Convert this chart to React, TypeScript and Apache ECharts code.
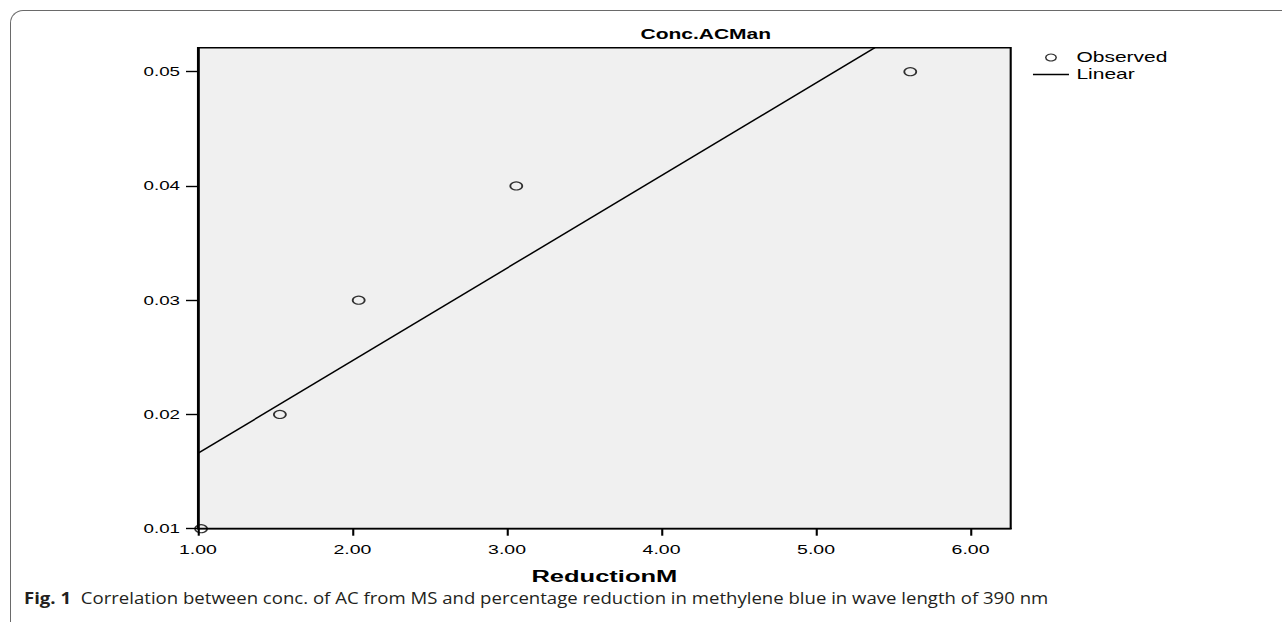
import React, { useEffect, useRef } from "react";
import * as echarts from "echarts";

// ---- data ----
const observedX = [1.02, 1.53, 2.04, 3.06, 5.61];
const observedY = [0.01, 0.02, 0.03, 0.04, 0.05];
const linearX = [1.0, 5.38];
const linearY = [0.0166, 0.0521];
const xTicks = [1, 2, 3, 4, 5, 6];
const yTicks = [0.01, 0.02, 0.03, 0.04, 0.05];
const chartTitle = "Conc.ACMan";
const xName = "ReductionM";
const legendNames = ["Observed", "Linear"];
const captionBold = "Fig. 1";
const captionText =
  "Correlation between conc. of AC from MS and percentage reduction in methylene blue in wave length of 390 nm";

// horizontal stretch of the original figure
const S = 1.5;
const W = 1282 / S;
const FONT = '"Liberation Sans", Arial, sans-serif';
const CAP_FONT = '"Open Sans", "Noto Sans", sans-serif';

export default function App() {
  const ref = useRef<HTMLDivElement>(null);

  useEffect(() => {
    if (!ref.current) return;
    const chart = echarts.init(ref.current, undefined, { renderer: "svg" });
    const gridLeft = 198 / S;
    const gridRight = 1010.7 / S;
    const gridTop = 47.7;
    const gridBottom = 528.7;

    chart.setOption({
      animation: false,
      textStyle: { fontFamily: FONT, color: "#000" },
      title: {
        text: chartTitle,
        left: 633 / S,
        top: 22,
        padding: [5, 5, 5, 5],
        textStyle: { fontSize: 14, fontWeight: "bold", color: "#000", fontFamily: FONT },
      },
      legend: {
        orient: "vertical",
        left: 1032 / S,
        top: 50,
        padding: 0,
        itemWidth: 24,
        itemHeight: 7,
        itemGap: 2,
        textStyle: { fontSize: 14, color: "#000", fontFamily: FONT, lineHeight: 15 },
        data: [
          {
            name: legendNames[0],
            icon: "circle",
            itemStyle: { color: "rgba(0,0,0,0)", borderColor: "#000", borderWidth: 1 },
          },
          {
            name: legendNames[1],
            itemStyle: { color: "rgba(0,0,0,0)", borderColor: "rgba(0,0,0,0)", borderWidth: 0, opacity: 0 },
            lineStyle: { color: "#000", width: 1.3 },
          },
        ],
      },
      grid: {
        left: gridLeft,
        top: gridTop,
        width: gridRight - gridLeft,
        height: gridBottom - gridTop,
        show: true,
        backgroundColor: "#f0f0f0",
        borderColor: "#000",
        borderWidth: 1.4,
      },
      xAxis: {
        type: "value",
        min: 1,
        max: 6.26,
        name: xName,
        nameLocation: "middle",
        nameGap: 39,
        nameTextStyle: { fontSize: 17, fontWeight: "bold", color: "#000", fontFamily: FONT },
        axisLine: { show: true, onZero: false, lineStyle: { color: "#000", width: 1.4 } },
        axisTick: { show: true, length: 7, customValues: xTicks, lineStyle: { color: "#000", width: 1.4 } },
        axisLabel: {
          customValues: xTicks,
          formatter: (v: number) => v.toFixed(2),
          fontSize: 13,
          color: "#000",
          margin: 14,
          fontFamily: FONT,
        },
        splitLine: { show: false },
      },
      yAxis: {
        type: "value",
        min: 0.01,
        max: 0.0521,
        axisLine: { show: true, onZero: false, lineStyle: { color: "#000", width: 1.4 } },
        axisTick: { show: true, length: 8, customValues: yTicks, lineStyle: { color: "#000", width: 1.4 } },
        axisLabel: {
          customValues: yTicks,
          formatter: (v: number) => v.toFixed(2),
          fontSize: 12.5,
          color: "#000",
          margin: 12,
          fontFamily: FONT,
        },
        splitLine: { show: false },
      },
      series: [
        {
          name: legendNames[0],
          type: "scatter",
          symbol: "circle",
          symbolSize: 8,
          itemStyle: { color: "rgba(0,0,0,0)", borderColor: "#000", borderWidth: 1.2 },
          data: observedX.map((x, i) => [x, observedY[i]]),
          z: 3,
        },
        {
          name: legendNames[1],
          type: "line",
          symbol: "none",
          showSymbol: false,
          lineStyle: { color: "#000", width: 1.3 },
          itemStyle: { color: "#000" },
          data: linearX.map((x, i) => [x, linearY[i]]),
          z: 2,
        },
      ],
      graphic: [
        {
          type: "text",
          x: 24 / S,
          y: 597,
          scaleX: 1.127 / S,
          style: {
            text: `{b|${captionBold}}  ${captionText}`,
            fill: "#231f20",
            fontSize: 16.5,
            fontFamily: CAP_FONT,
            verticalAlign: "middle",
            rich: {
              b: {
                fontWeight: "bold",
                fontSize: 16.5,
                fontFamily: CAP_FONT,
                fill: "#231f20",
              },
            },
          },
        },
      ],
    });
    return () => chart.dispose();
  }, []);

  return (
    <div
      style={{
        position: "fixed",
        left: 0,
        top: 0,
        width: 1282,
        height: 622,
        overflow: "hidden",
        background: "#fff",
      }}
    >
      <div
        style={{
          position: "absolute",
          left: 9.5,
          top: 10,
          width: 1320,
          height: 660,
          borderTop: "1.5px solid #6a6a6a",
          borderLeft: "1.5px solid #6a6a6a",
          borderTopLeftRadius: 13,
          boxSizing: "border-box",
        }}
      />
      <div
        ref={ref}
        style={{
          position: "absolute",
          left: 0,
          top: 0,
          width: W,
          height: 622,
          transform: `scaleX(${S})`,
          transformOrigin: "0 0",
        }}
      />
    </div>
  );
}
